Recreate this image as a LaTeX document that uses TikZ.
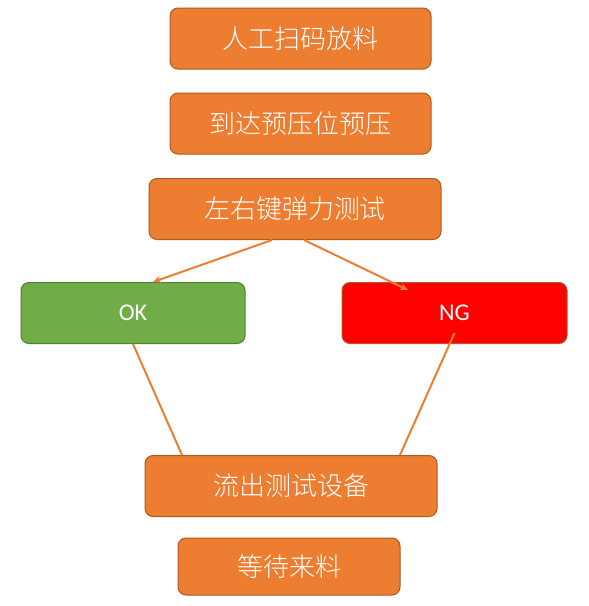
\documentclass[tikz,border=0pt]{standalone}
\usepackage{fontspec}
\setmainfont{Carlito}
\newfontfamily\cjk{Noto Sans CJK SC Light}
\usetikzlibrary{arrows.meta}
\definecolor{boxfill}{HTML}{ED7D31}
\definecolor{boxline}{HTML}{AE5A21}
\definecolor{okfill}{HTML}{70AD47}
\definecolor{okline}{HTML}{507E32}
\begin{document}
\begin{tikzpicture}[x=1pt,y=-1pt,line join=round,
	box/.style={draw=boxline,fill=boxfill,line width=1pt,rounded corners=8pt,inner sep=0pt,minimum height=61pt,text=white,font=\cjk\fontsize{26}{26}\selectfont},
	okbox/.style={box,draw=okline,fill=okfill,font=\fontsize{24}{24}\selectfont},
	ngbox/.style={box,fill=red,font=\fontsize{24}{24}\selectfont},
	flow/.style={draw=boxfill,line width=2pt}]
	\useasboundingbox (0,0) rectangle (589,606);
	\node[box,minimum width=261pt] (scan) at (300.5,38.5) {人工扫码放料};
	\node[box,minimum width=261pt] (press) at (300.5,123.5) {到达预压位预压};
	\node[box,minimum width=292pt] (test) at (295,209) {左右键弹力测试};
	\node[okbox,minimum width=224pt] (ok) at (133,313) {OK};
	\node[ngbox,minimum width=225pt] (ng) at (454.5,313) {NG};
	\node[box,minimum width=292pt] (out) at (291,486) {流出测试设备};
	\node[box,minimum width=222pt,minimum height=57pt] (wait) at (289,566.5) {等待来料};
	% connectors
	\draw[flow,-{Stealth[length=8pt,width=7pt]}] ([xshift=-23pt]test.south) -- ([xshift=20pt]ok.north);
	\draw[flow,-{Stealth[length=8pt,width=7pt]}] ([xshift=9pt]test.south) -- ([xshift=-46.5pt,yshift=-8pt]ng.north);
	\draw[flow] (ok.south) -- ([xshift=-109pt]out.north);
	\draw[flow] ([yshift=-20pt]ng.center) -- ([xshift=109pt]out.north);
\end{tikzpicture}
\end{document}
